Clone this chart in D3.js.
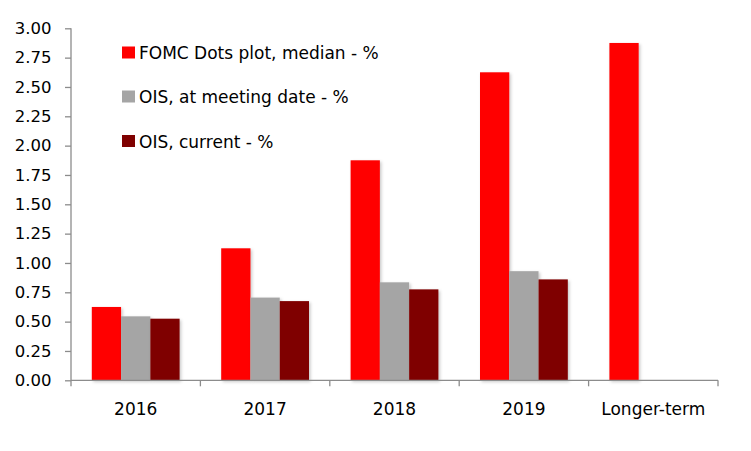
<!DOCTYPE html>
<html><head><meta charset="utf-8">
<script src="https://cdn.jsdelivr.net/npm/d3@7"></script>
<style>body{margin:0;background:#fff}svg{display:block}</style>
</head><body>
<svg id="c" width="751" height="451"></svg>
<script>
const categories = ["2016","2017","2018","2019","Longer-term"];
const seriesNames = ["FOMC Dots plot, median - %","OIS, at meeting date - %","OIS, current - %"];
const fomc = [0.625, 1.125, 1.875, 2.625, 2.875];
const oisMeeting = [0.545, 0.705, 0.835, 0.93, null];
const oisCurrent = [0.525, 0.675, 0.775, 0.86, null];
const yTicks = [0,0.25,0.5,0.75,1,1.25,1.5,1.75,2,2.25,2.5,2.75,3];
const colors = ["#ff0000","#a5a5a5","#7f0000"];

(function(){
const series = [fomc, oisMeeting, oisCurrent];
const svg = d3.select("#c");
const font = "'DejaVu Sans', sans-serif";
const mLeft = 71, mRight = 718, mTop = 28.3, mBottom = 380.3;

const x = d3.scaleBand().domain(categories).range([mLeft, mRight]).padding(0);
const xi = d3.scaleBand().domain(d3.range(series.length))
  .range([20.8, x.bandwidth() - 20.8]).padding(0);
const y = d3.scaleLinear().domain([0, 3]).range([mBottom, mTop]);

const defs = svg.append("defs");
const f = defs.append("filter").attr("id","sh").attr("x","-20%").attr("y","-20%").attr("width","150%").attr("height","150%");
f.append("feDropShadow").attr("dx",1.5).attr("dy",1.5).attr("stdDeviation",1.5).attr("flood-color","#000").attr("flood-opacity",0.22);

// bars
const g = svg.append("g");
series.forEach((s, si) => {
  g.selectAll(null).data(categories.map((c, i) => ({c, v: s[i]})).filter(d => d.v != null))
    .enter().append("rect")
    .attr("x", d => x(d.c) + xi(si))
    .attr("width", xi.bandwidth())
    .attr("y", d => y(d.v))
    .attr("height", d => y(0) - y(d.v))
    .attr("fill", colors[si])
    .attr("filter","url(#sh)");
});

// y axis
const yAxis = svg.append("g").attr("transform", `translate(${mLeft},0)`)
  .call(d3.axisLeft(y).tickValues(yTicks).tickFormat(d3.format(".2f")).tickSize(6).tickPadding(13.5));
yAxis.select(".domain").attr("stroke","#8c8c8c").attr("stroke-width",1.3).attr("d", `M0,${mTop}V${mBottom}`);
yAxis.selectAll(".tick line").attr("stroke","#8c8c8c").attr("stroke-width",1.3);
yAxis.selectAll(".tick text").attr("font-family", font).attr("font-size", 16.5).attr("fill","#000");

// x axis
const xAxis = svg.append("g").attr("transform", `translate(0,${mBottom})`);
xAxis.append("line").attr("x1", mLeft).attr("x2", mRight).attr("y1",0).attr("y2",0)
  .attr("stroke","#8c8c8c").attr("stroke-width",1.3);
const bounds = categories.map(c => x(c)).concat([mRight]);
xAxis.selectAll("line.t").data(bounds).enter().append("line").attr("class","t")
  .attr("x1", d => d).attr("x2", d => d).attr("y1", 0).attr("y2", 6)
  .attr("stroke","#8c8c8c").attr("stroke-width",1.3);
xAxis.selectAll("text").data(categories).enter().append("text")
  .attr("x", d => x(d) + x.bandwidth()/2).attr("y", 35)
  .attr("text-anchor","middle").attr("font-family", font).attr("font-size", 17).attr("fill","#000")
  .text(d => d);

// legend
const lg = svg.append("g");
const legY = [52.5, 96.5, 141];
seriesNames.forEach((n, i) => {
  lg.append("rect").attr("x",122).attr("y",legY[i]-6).attr("width",13).attr("height",12).attr("fill",colors[i]);
  lg.append("text").attr("x",139).attr("y",legY[i]+6.5).attr("font-family",font).attr("font-size",17)
    .attr("fill","#000").text(n);
});
})();
</script>
</body></html>
